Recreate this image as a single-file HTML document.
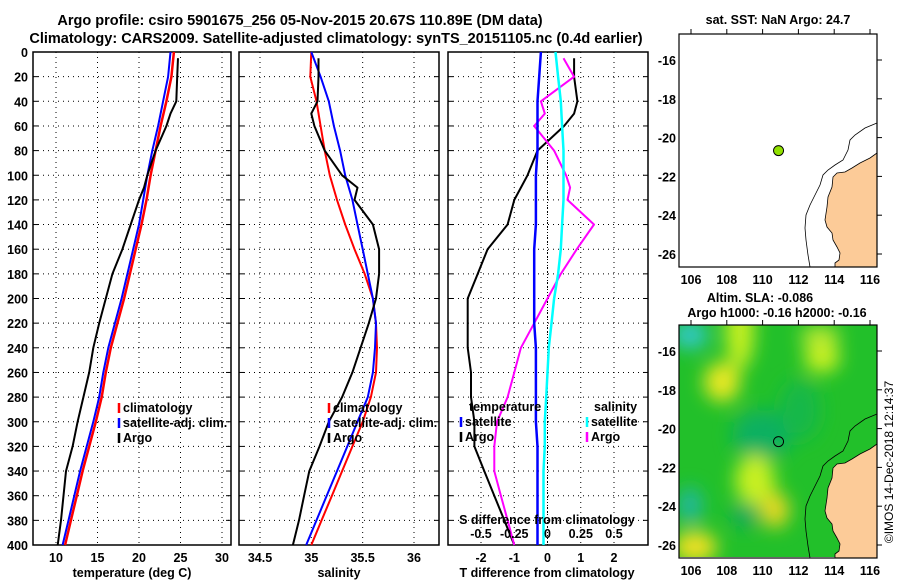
<!DOCTYPE html>
<html><head><meta charset="utf-8"><style>
body{margin:0;background:#fff;width:900px;height:580px;overflow:hidden}
svg text{font-family:"Liberation Sans",sans-serif;font-weight:bold;fill:#000}
</style></head><body>
<svg id="c" width="900" height="580" xmlns="http://www.w3.org/2000/svg">
<defs>
<filter id="blur" x="-50%" y="-50%" width="200%" height="200%"><feGaussianBlur stdDeviation="9"/></filter>
<clipPath id="clipB"><rect x="679" y="325" width="198" height="232"/></clipPath>
</defs>
<text x="300" y="25" font-size="14.5" text-anchor="middle">Argo profile: csiro 5901675_256 05-Nov-2015 20.67S 110.89E (DM data)</text>
<text x="336" y="43" font-size="14.5" text-anchor="middle">Climatology: CARS2009. Satellite-adjusted climatology: synTS_20151105.nc (0.4d earlier)</text>
<g id="plots"></g>
<text x="778" y="24" font-size="12.5" text-anchor="middle">sat. SST: NaN Argo: 24.7</text>
<text x="760" y="302" font-size="12.5" text-anchor="middle">Altim. SLA: -0.086</text>
<text x="777" y="317" font-size="12.5" text-anchor="middle">Argo h1000: -0.16 h2000: -0.16</text>
<text transform="translate(893,462) rotate(-90)" font-size="12" text-anchor="middle" style="font-weight:normal">©IMOS 14-Dec-2018 12:14:37</text>
</svg>
<script>
// ---- data ----
const tDepth=[0,20,40,60,80,100,120,140,160,180,200,220,240,260,280,300,320,340,360,380,400];
const tClim=[24.2,23.9,23.3,22.6,22.0,21.4,20.9,20.3,19.6,18.9,18.2,17.4,16.6,16.0,15.5,14.8,14.0,13.2,12.5,11.8,11.1];
const tSat=[23.8,23.5,22.9,22.3,21.6,21.0,20.5,20.0,19.3,18.6,17.9,17.1,16.3,15.7,15.2,14.5,13.7,12.9,12.2,11.5,10.8];
const argoDepth=[5,20,40,50,60,80,100,110,120,140,160,180,200,220,240,260,280,300,320,340,360,380,400];
const tArgo=[24.7,24.6,24.5,23.8,23.3,22.0,21.0,20.6,20.0,19.0,18.0,16.8,16.0,15.2,14.5,14.0,13.3,12.6,12.0,11.2,10.9,10.6,10.2];
const sClim=[35.0,34.99,35.05,35.09,35.13,35.18,35.25,35.33,35.42,35.52,35.6,35.63,35.64,35.63,35.58,35.5,35.4,35.3,35.2,35.1,35.0];
const sSat=[35.0,35.09,35.17,35.22,35.28,35.33,35.4,35.45,35.5,35.55,35.6,35.63,35.62,35.6,35.55,35.45,35.35,35.25,35.15,35.05,34.95];
const sArgo=[35.07,35.07,35.06,35.0,35.03,35.13,35.3,35.45,35.42,35.6,35.66,35.66,35.63,35.56,35.48,35.4,35.3,35.17,35.08,34.98,34.93,34.88,34.82];
const dTSat=[-0.2,-0.25,-0.3,-0.3,-0.3,-0.35,-0.35,-0.35,-0.4,-0.4,-0.4,-0.4,-0.35,-0.35,-0.35,-0.35,-0.3,-0.3,-0.3,-0.3,-0.3];
const dTArgo=[0.8,0.8,0.9,0.8,0.5,-0.3,-0.6,-0.8,-1.0,-1.2,-1.8,-2.1,-2.4,-2.4,-2.4,-2.3,-2.3,-2.2,-2.2,-1.9,-1.6,-1.3,-1.0];
const dSSat=[0.06,0.08,0.1,0.11,0.12,0.12,0.12,0.11,0.1,0.08,0.05,0.03,0.01,0.0,-0.01,-0.02,-0.02,-0.03,-0.03,-0.03,-0.03];
const dSArgo=[0.12,0.2,-0.05,-0.02,-0.1,0.05,0.14,0.17,0.15,0.35,0.22,0.1,0.0,-0.1,-0.2,-0.25,-0.3,-0.38,-0.4,-0.4,-0.35,-0.3,-0.25];
const tTicks=[10,15,20,25,30];
const sTicks=[34.5,35,35.5,36];
const dTTicks=[-2,-1,0,1,2];
const dSTicks=[-0.5,-0.25,0,0.25,0.5];
const depthTicks=[0,20,40,60,80,100,120,140,160,180,200,220,240,260,280,300,320,340,360,380,400];
const lonTicks=[106,108,110,112,114,116];
const latTicks=[-16,-18,-20,-22,-24,-26];
const argoLon=110.89, argoLat=-20.67;

const NS='http://www.w3.org/2000/svg';
const root=document.getElementById('plots');
function mk(tag,attrs,parent){const e=document.createElementNS(NS,tag);for(const k in attrs)e.setAttribute(k,attrs[k]);(parent||root).appendChild(e);return e;}
const Y0=52,Y1=545;
const yD=d=>Y0+(d/400)*(Y1-Y0);
function lin(d0,d1,r0,r1){return v=>r0+(v-d0)*(r1-r0)/(d1-d0);}

function panel(name,x0,x1,xs,ticks,fmt,labelY){
  const g=mk('g',{});
  
  
  ticks.forEach(t=>{const x=xs(t);
    mk('line',{x1:x,x2:x,y1:Y0,y2:Y1,stroke:'#000','stroke-dasharray':'1,4','stroke-width':1},g);
    if(labelY){const tx=mk('text',{x:x,y:labelY,'font-size':12.5,'text-anchor':'middle'},g);tx.textContent=fmt(t);
      
      }
  });
  depthTicks.forEach(d=>{const y=yD(d);
    mk('line',{x1:x0,x2:x1,y1:y,y2:y,stroke:'#000','stroke-dasharray':'1,4','stroke-width':1},g);
    mk('line',{x1:x0,x2:x0+5,y1:y,y2:y,stroke:'#000'},g);
    mk('line',{x1:x1-5,x2:x1,y1:y,y2:y,stroke:'#000'},g);});
  mk('rect',{x:x0,y:Y0,width:x1-x0,height:Y1-Y0,fill:'none',stroke:'#000','stroke-width':1.5},g);
  return g;
}
function series(name,g,xs,xv,dv,col,w){
  const pts=xv.map((v,i)=>xs(v).toFixed(1)+','+yD(dv[i]).toFixed(1)).join(' ');
  const p=mk('polyline',{points:pts,fill:'none',stroke:col,'stroke-width':w,'stroke-linejoin':'round'},g);
  
  
}
function legend(g,x,y,items){
  items.forEach((it,i)=>{const yy=y+i*15;
    mk('line',{x1:x,x2:x,y1:yy-9,y2:yy+1,stroke:it[1],'stroke-width':2.5},g);
    const t=mk('text',{x:x+4,y:yy,'font-size':12.5},g);t.textContent=it[0];
    
    });
}
depthTicks.forEach(d=>{const t=mk('text',{x:28,y:yD(d)+5,'font-size':12.5,'text-anchor':'end'});t.textContent=d;
  
  });

const xT=lin(10,30,56,222);
const g1=panel('temperature-panel',33,231,xT,tTicks,v=>v,562);
series('temp-climatology',g1,xT,tClim,tDepth,'#f00',2.5);
series('temp-satellite-adj',g1,xT,tSat,tDepth,'#00f',2);
series('temp-argo',g1,xT,tArgo,argoDepth,'#000',2);
legend(g1,119,412,[['climatology','#f00'],['satellite-adj. clim.','#00f'],['Argo','#000']]);
let t=mk('text',{x:132,y:577,'font-size':12.5,'text-anchor':'middle'});t.textContent='temperature (deg C)';


const xS=lin(34.5,36,260,414);
const g2=panel('salinity-panel',239,439,xS,sTicks,v=>v,562);
series('sal-climatology',g2,xS,sClim,tDepth,'#f00',2);
series('sal-satellite-adj',g2,xS,sSat,tDepth,'#00f',2);
series('sal-argo',g2,xS,sArgo,argoDepth,'#000',2);
legend(g2,329,412,[['climatology','#f00'],['satellite-adj. clim.','#00f'],['Argo','#000']]);
t=mk('text',{x:339,y:577,'font-size':12.5,'text-anchor':'middle'});t.textContent='salinity';


const xDT=lin(-2,2,481,614), xDS=lin(-0.5,0.5,481,614);
const g3=panel('difference-panel',448,648,xDT,dTTicks,v=>v,562);
mk('line',{x1:xDT(0),x2:xDT(0),y1:Y0,y2:Y1,stroke:'#000','stroke-dasharray':'1,2'},g3);
series('dT-argo',g3,xDT,dTArgo,argoDepth,'#000',2);
series('dS-argo',g3,xDS,dSArgo,argoDepth,'#f0f',2);
series('dT-satellite',g3,xDT,dTSat,tDepth,'#00f',2.5);
series('dS-satellite',g3,xDS,dSSat,tDepth,'#0ff',2.5);
dSTicks.forEach(v=>{const tx=mk('text',{x:xDS(v),y:538,'font-size':12.5,'text-anchor':'middle'},g3);tx.textContent=v;
  });
t=mk('text',{x:547,y:524,'font-size':12.5,'text-anchor':'middle'},g3);t.textContent='S difference from climatology';

t=mk('text',{x:469,y:411,'font-size':12.5},g3);t.textContent='temperature';

t=mk('text',{x:594,y:411,'font-size':12.5},g3);t.textContent='salinity';

legend(g3,461,426,[['satellite','#00f'],['Argo','#000']]);
legend(g3,587,426,[['satellite','#0ff'],['Argo','#f0f']]);
t=mk('text',{x:547,y:577,'font-size':12.5,'text-anchor':'middle'});t.textContent='T difference from climatology';


const land=[[877,153],[870,158],[860,163],[852,168],[845,172],[837,173],[833,177],[832,187],[828,197],[827,207],[825,220],[827,227],[832,233],[833,240],[837,247],[840,253],[839,260],[835,263],[835,267],[877,267]];
const shelf=[[877,123],[865,128],[855,135],[850,140],[848,150],[843,160],[835,165],[828,170],[823,175],[820,185],[815,195],[810,205],[806,215],[805,228],[806,240],[808,255],[810,267]];
function map(name,top,sla){
  const g=mk('g',{});
  
  
  const dy=top-34, H=233;
  const lx=lin(106,116,691,870), ly=lin(-16,-26,60+dy,254+dy);
  if(sla){
    const cg=mk('g',{'clip-path':'url(#clipB)'},g);
    mk('rect',{x:679,y:top,width:198,height:H,fill:'#22c02a'},cg);
    const bg=mk('g',{filter:'url(#blur)'},cg);
    [[690,335,18,14,'#30c8c8'],[740,330,14,40,'#c8f020'],[722,382,18,20,'#e8e820'],[822,357,18,16,'#c8f020'],[820,336,20,10,'#b8e830'],[762,435,30,25,'#10b060'],[690,505,12,18,'#20b8a0'],[755,480,20,25,'#c8f020'],[775,510,14,18,'#e8d820'],[695,547,22,16,'#f0e020'],[745,515,14,12,'#10a860'],[800,410,20,30,'#18b848']].forEach(b=>{
      mk('ellipse',{cx:b[0],cy:b[1],rx:b[2],ry:b[3],fill:b[4]},bg);});
  } else mk('rect',{x:679,y:top,width:198,height:H,fill:'#fff'},g);
  mk('polygon',{points:land.map(p=>p[0]+','+(p[1]+dy)).join(' '),fill:'#fccb98',stroke:'#000','stroke-width':0.8},g);
  mk('polyline',{points:shelf.map(p=>p[0]+','+(p[1]+dy)).join(' '),fill:'none',stroke:'#000','stroke-width':0.8},g);
  mk('rect',{x:679,y:top,width:198,height:H,fill:'none',stroke:'#000','stroke-width':1.2},g);
  lonTicks.forEach(v=>{const x=lx(v);mk('line',{x1:x,x2:x,y1:top-5,y2:top,stroke:'#000'},g);
    const tx=mk('text',{x:x,y:top+H+17,'font-size':12.5,'text-anchor':'middle'},g);tx.textContent=v;
    });
  latTicks.forEach(v=>{const y=ly(v);mk('line',{x1:877,x2:882,y1:y,y2:y,stroke:'#000'},g);
    const tx=mk('text',{x:676,y:y+5,'font-size':12.5,'text-anchor':'end'},g);tx.textContent=v;
    });
  const c=mk('circle',{cx:lx(argoLon),cy:ly(argoLat),r:5,fill:sla?'none':'#90e000',stroke:'#000','stroke-width':1},g);
  
  
}
map('sst-map',34,false);
map('sla-map',325,true);
</script>
</body></html>
